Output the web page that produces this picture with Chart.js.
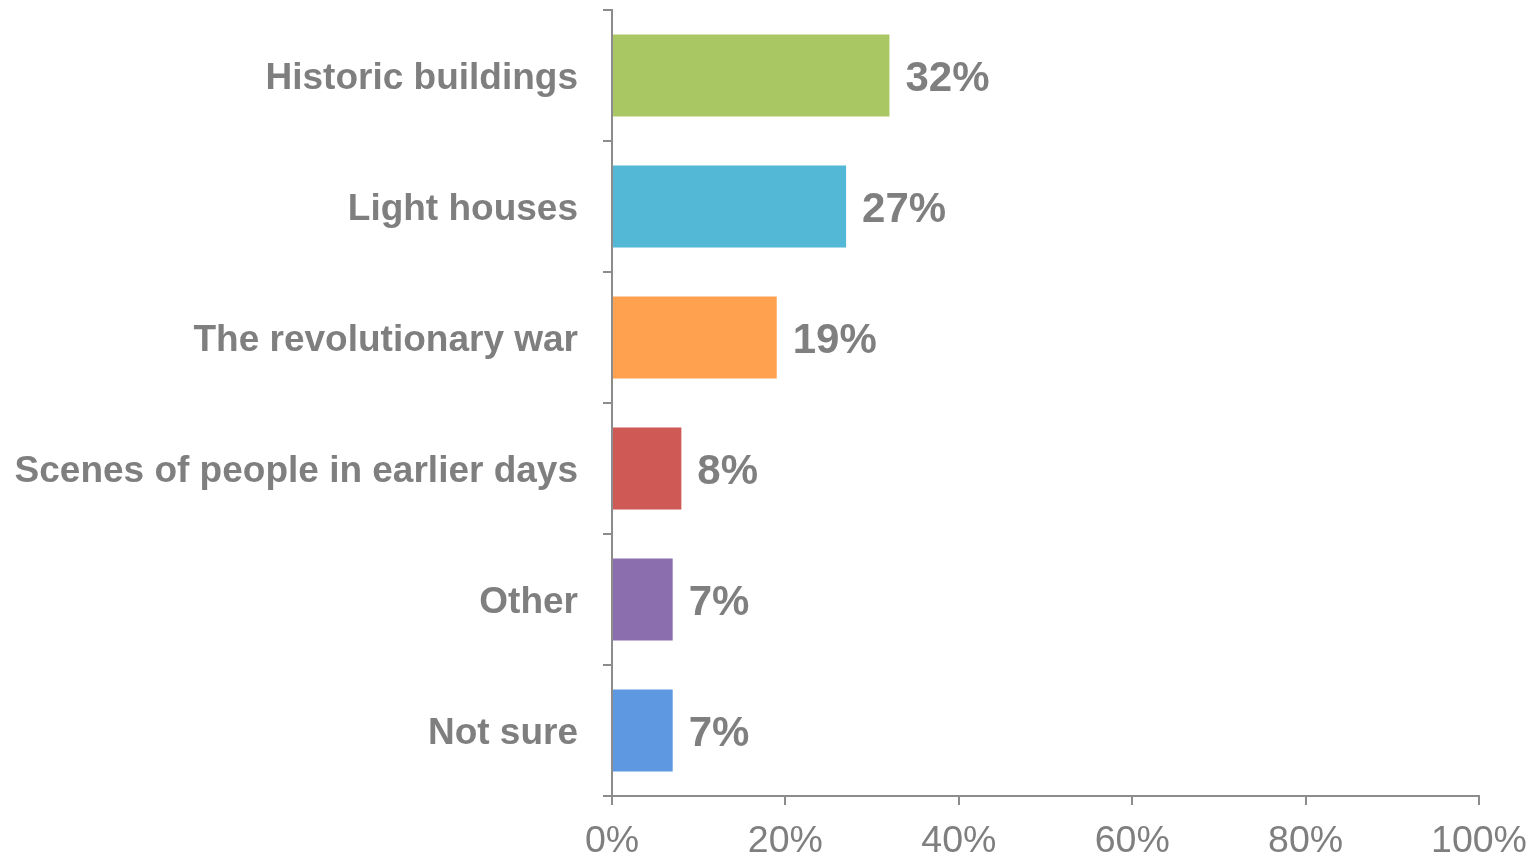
<!DOCTYPE html>
<html>
<head>
<meta charset="utf-8">
<script src="https://cdn.jsdelivr.net/npm/chart.js@4/dist/chart.umd.min.js"></script>
<style>
html,body{margin:0;padding:0;background:#fff;}
#wrap{width:1532px;height:856px;}
</style>
</head>
<body>
<div id="wrap"><canvas id="c" width="1532" height="856"></canvas></div>
<script>
const categories = ["Historic buildings", "Light houses", "The revolutionary war", "Scenes of people in earlier days", "Other", "Not sure"];
const values = [32, 27, 19, 8, 7, 7];
const barColors = ["#A9C864", "#53B8D6", "#FFA14E", "#CE5955", "#8A6EAD", "#5D98E0"];
const xTicks = [0, 20, 40, 60, 80, 100];

const TEXT = "#7F7F7F";
const AXIS = "#8C8C8C";

const valueLabels = {
  id: "valueLabels",
  afterDatasetsDraw(chart) {
    const ctx = chart.ctx;
    const meta = chart.getDatasetMeta(0);
    ctx.save();
    ctx.font = "bold 42px 'Liberation Sans', Arial, sans-serif";
    ctx.fillStyle = TEXT;
    ctx.textAlign = "left";
    ctx.textBaseline = "middle";
    meta.data.forEach((bar, i) => {
      ctx.fillText(values[i] + "%", bar.x + 16, bar.y + 4);
    });
    ctx.restore();
  }
};

new Chart(document.getElementById("c"), {
  type: "bar",
  data: {
    labels: categories,
    datasets: [{
      data: values,
      backgroundColor: barColors,
      borderWidth: 0,
      barPercentage: 0.626,
      categoryPercentage: 1.0
    }]
  },
  options: {
    indexAxis: "y",
    responsive: false,
    animation: false,
    layout: { padding: { top: 10, right: 53, left: 10, bottom: 0 } },
    plugins: { legend: { display: false }, tooltip: { enabled: false } },
    scales: {
      x: {
        min: 0, max: 100,
        afterBuildTicks(axis) { axis.ticks = xTicks.map(v => ({ value: v })); },
        afterFit(axis) { axis.height = 60; axis.paddingLeft = 0; axis.paddingRight = 0; },
        grid: { display: true, drawOnChartArea: false, drawTicks: true, tickLength: 9, color: AXIS, lineWidth: 2 },
        border: { display: true, color: AXIS, width: 2 },
        ticks: {
          color: TEXT,
          padding: 14,
          font: { family: "'Liberation Sans', Arial, sans-serif", size: 37.5 },
          callback: v => v + "%",
          maxRotation: 0
        }
      },
      y: {
        afterFit(axis) { axis.width = 602; axis.paddingTop = 0; axis.paddingBottom = 0; },
        grid: { display: true, offset: true, drawOnChartArea: false, drawTicks: true, tickLength: 9, color: AXIS, lineWidth: 2 },
        border: { display: true, color: AXIS, width: 2 },
        ticks: {
          color: TEXT,
          padding: 25,
          labelOffset: 3,
          font: { family: "'Liberation Sans', Arial, sans-serif", size: 37, weight: "bold" }
        }
      }
    }
  },
  plugins: [valueLabels]
});
</script>
</body>
</html>
